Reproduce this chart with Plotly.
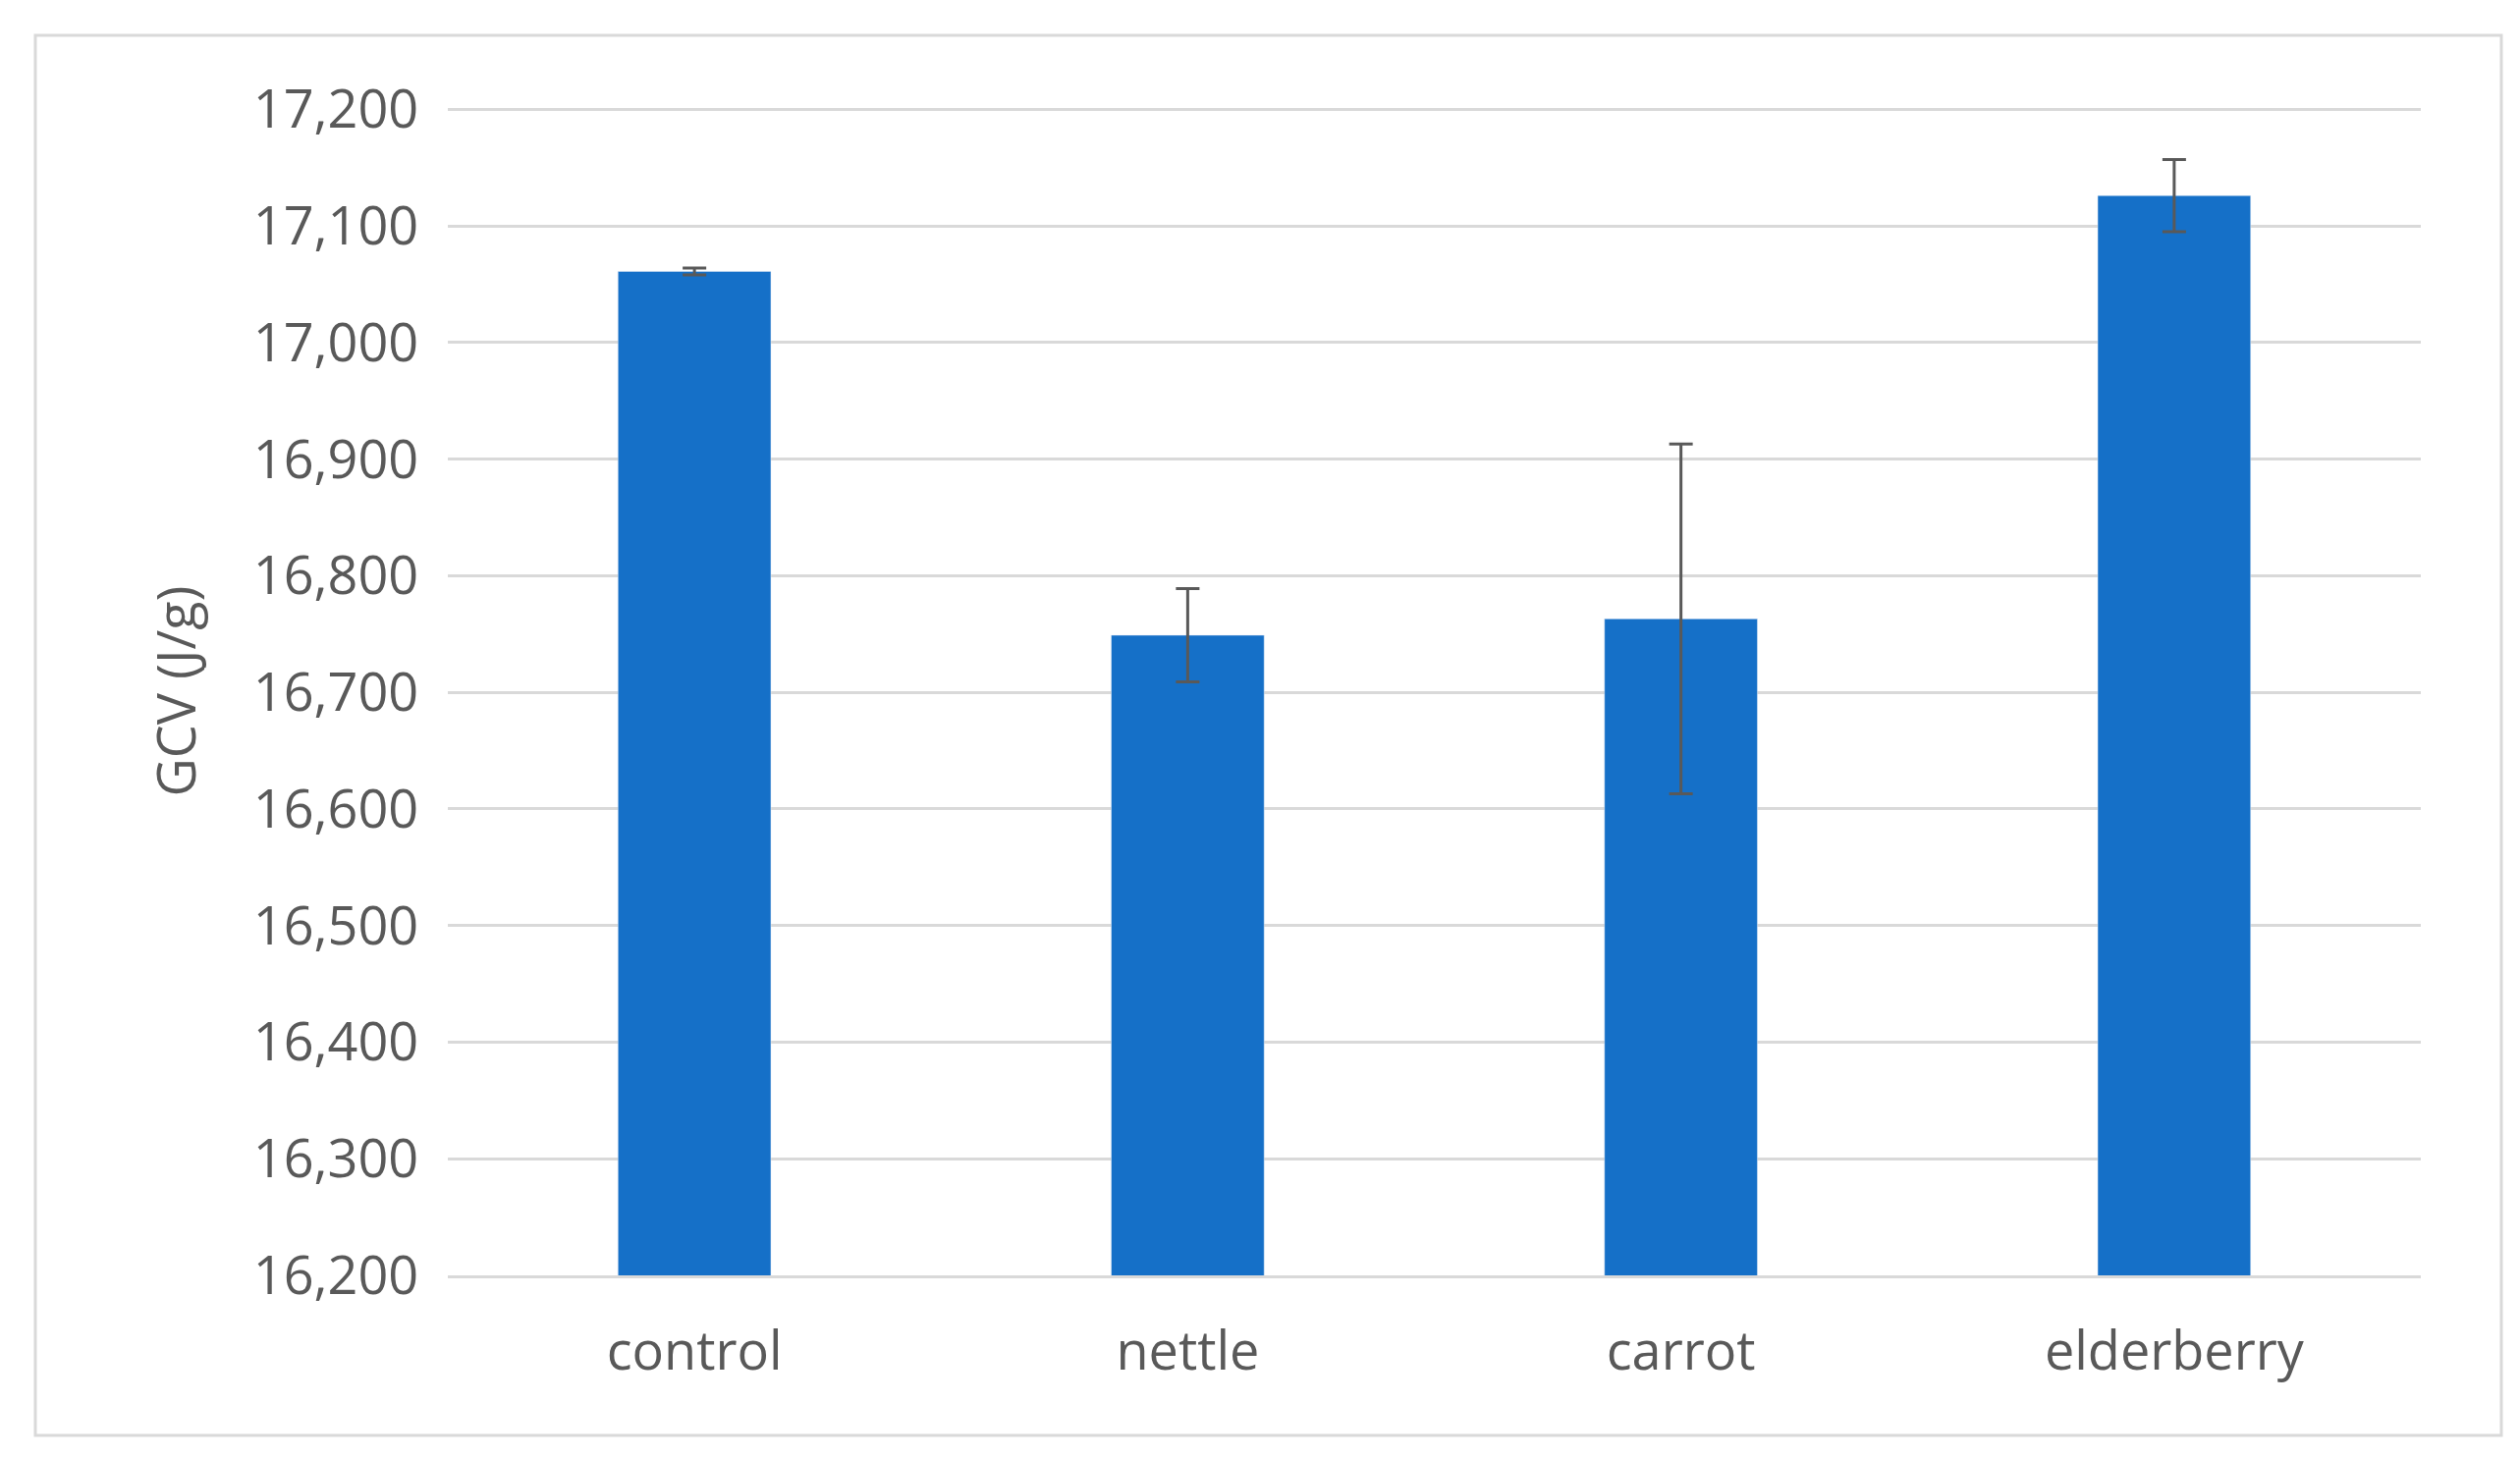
import plotly.graph_objects as go

categories = ["control", "nettle", "carrot", "elderberry"]
values = [17061, 16749, 16763, 17126]
errors = [3, 40, 150, 31]
tick_vals = list(range(16200, 17201, 100))

W, H = 2566, 1484
L, R, T, B = 448, 2566 - 2457, 101, 1484 - 1291
pw, ph = W - L - R, H - T - B

fig = go.Figure(go.Bar(
    x=categories, y=values, width=0.31,
    marker_color="#1570C8",
    error_y=dict(type="data", array=errors, color="#595959", thickness=3, width=12),
))

def px2paper_x(px): return (px - L) / pw
def px2paper_y(py): return (H - B - py) / ph

fig.update_layout(
    width=W, height=H,
    margin=dict(l=L, r=R, t=T, b=B),
    paper_bgcolor="white", plot_bgcolor="white",
    font=dict(family="Open Sans", color="#595959", size=54),
    showlegend=False,
    xaxis=dict(showline=True, linecolor="#d9d9d9", linewidth=3,
               ticks="outside", ticklen=28, tickcolor="white", tickfont=dict(size=54)),
    yaxis=dict(range=[16200, 17202], tickvals=tick_vals, tickformat=",d",
               gridcolor="#d9d9d9", gridwidth=3, showline=False, zeroline=False,
               ticks="outside", ticklen=18, tickcolor="white", tickfont=dict(size=54),
               title=dict(text="GCV (J/g)", font=dict(size=54), standoff=40)),
    shapes=[dict(type="rect", xref="paper", yref="paper",
                 x0=px2paper_x(28), x1=px2paper_x(2539),
                 y0=px2paper_y(1454), y1=px2paper_y(28),
                 line=dict(color="#d9d9d9", width=3), layer="below")],
)
fig.write_html("out.html")
